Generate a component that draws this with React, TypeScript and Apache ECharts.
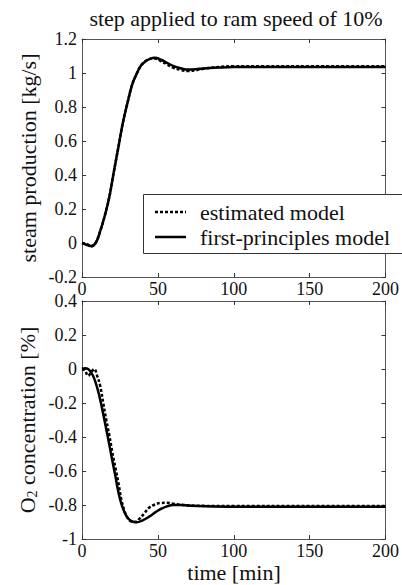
import React, { useEffect, useRef } from "react";
import * as echarts from "echarts";

// ---- data ----
const steamT = [0, 3, 6, 9, 12, 15, 18, 21, 24, 27, 30, 33, 36, 39, 42, 45, 48, 52, 56, 60, 65, 70, 75, 80, 90, 100, 120, 150, 200];
const steamFirst = [0, -0.01, -0.018, 0.0, 0.07, 0.16, 0.27, 0.42, 0.565, 0.71, 0.825, 0.93, 0.995, 1.045, 1.07, 1.085, 1.09, 1.078, 1.06, 1.042, 1.028, 1.02, 1.022, 1.027, 1.032, 1.035, 1.035, 1.035, 1.035];
const steamEst = [0, -0.005, -0.02, 0.0, 0.07, 0.16, 0.27, 0.42, 0.565, 0.71, 0.825, 0.93, 0.995, 1.045, 1.07, 1.083, 1.085, 1.07, 1.05, 1.032, 1.018, 1.012, 1.016, 1.025, 1.035, 1.04, 1.04, 1.04, 1.04];

const o2FirstT = [0, 2, 4, 6, 8, 10, 12, 14, 16, 18, 20, 22, 24, 26, 28, 30, 33, 36, 40, 44, 48, 52, 56, 60, 65, 70, 80, 100, 150, 200];
const o2First = [0, 0.005, 0, -0.02, -0.055, -0.11, -0.18, -0.265, -0.355, -0.445, -0.54, -0.63, -0.725, -0.795, -0.842, -0.875, -0.897, -0.902, -0.89, -0.87, -0.845, -0.823, -0.808, -0.8, -0.8, -0.803, -0.807, -0.81, -0.81, -0.81];

const o2EstT = [0, 2, 4, 6, 8, 10, 12, 14, 16, 18, 20, 22, 24, 26, 28, 30, 32, 35, 38, 41, 44, 48, 52, 56, 60, 65, 70, 80, 100, 150, 200];
const o2Est = [0, -0.01, -0.04, -0.02, 0, -0.04, -0.1, -0.2, -0.3, -0.39, -0.49, -0.58, -0.67, -0.77, -0.835, -0.875, -0.895, -0.9, -0.88, -0.85, -0.818, -0.797, -0.788, -0.787, -0.792, -0.798, -0.802, -0.805, -0.806, -0.806, -0.806];

const xTicks = { min: 0, max: 200, interval: 50 };
const steamTicks = { min: -0.2, max: 1.2, interval: 0.2 };
const o2Ticks = { min: -1, max: 0.4, interval: 0.2 };

const titleText = "step applied to ram speed of 10%";
const legendNames = ["estimated model", "first-principles model"];

const FONT = "Liberation Serif";

function pairs(t: number[], v: number[]) {
  return t.map((x, i) => [x, v[i]]);
}

const css = `#chart-root svg text, #chart-root svg tspan { font-family: "Liberation Serif", "Times New Roman", serif !important; }`;

export default function App() {
  const ref = useRef<HTMLDivElement>(null);
  useEffect(() => {
    document.body.style.margin = "0";
    if (!ref.current) return;
    const chart = echarts.init(ref.current, null, { renderer: "svg" });

    const axisLine = { show: true, onZero: false, lineStyle: { color: "#555", width: 1 } };
    const tick = { show: true, inside: true, length: 4, lineStyle: { color: "#333", width: 1 } };
    const fmt = (v: number) => String(Math.round(v * 10) / 10);

    const mkX = (grid: number, pos: string, labels: boolean) => ({
      type: "value",
      gridIndex: grid,
      position: pos,
      ...xTicks,
      axisLine,
      axisTick: tick,
      splitLine: { show: false },
      axisLabel: labels
        ? { show: true, fontSize: 18, fontFamily: FONT, color: "#111", margin: 3, formatter: fmt }
        : { show: false },
    });
    const mkY = (grid: number, pos: string, labels: boolean, ticks: any) => ({
      type: "value",
      gridIndex: grid,
      position: pos,
      ...ticks,
      axisLine,
      axisTick: tick,
      splitLine: { show: false },
      axisLabel: labels
        ? { show: true, fontSize: 18, fontFamily: FONT, color: "#111", margin: 5, formatter: fmt }
        : { show: false },
    });

    const lineBase = { type: "line", showSymbol: false, symbol: "none", smooth: 0.4, z: 3 };

    chart.setOption({
      animation: false,
      backgroundColor: "#fff",
      grid: [
        { left: 82, top: 39, width: 308, height: 238 },
        { left: 82, top: 301, width: 308, height: 238 },
      ],
      xAxis: [mkX(0, "bottom", true), mkX(0, "top", false), mkX(1, "bottom", true), mkX(1, "top", false)],
      yAxis: [
        mkY(0, "left", true, steamTicks),
        mkY(0, "right", false, steamTicks),
        mkY(1, "left", true, o2Ticks),
        mkY(1, "right", false, o2Ticks),
      ],
      series: [
        { ...lineBase, name: legendNames[1], xAxisIndex: 0, yAxisIndex: 0, data: pairs(steamT, steamFirst), lineStyle: { color: "#000", width: 2.5 } },
        { ...lineBase, name: legendNames[0], xAxisIndex: 0, yAxisIndex: 0, data: pairs(steamT, steamEst), lineStyle: { color: "#000", width: 2.5, type: [3, 2] } },
        { ...lineBase, name: legendNames[1], xAxisIndex: 2, yAxisIndex: 2, data: pairs(o2FirstT, o2First), lineStyle: { color: "#000", width: 2.5 } },
        { ...lineBase, name: legendNames[0], xAxisIndex: 2, yAxisIndex: 2, data: pairs(o2EstT, o2Est), lineStyle: { color: "#000", width: 2.5, type: [3, 2] } },
      ],
      graphic: [
        {
          type: "text", x: 236, y: 18, z: 100,
          style: { text: titleText, fontSize: 22, fontFamily: FONT, fill: "#111", align: "center", verticalAlign: "middle" },
        },
        {
          type: "text", x: 28, y: 158, rotation: Math.PI / 2, z: 100,
          style: { text: "steam production [kg/s]", fontSize: 22, fontFamily: FONT, fill: "#111", align: "center", verticalAlign: "middle" },
        },
        {
          type: "text", x: 27, y: 420, rotation: Math.PI / 2, z: 100,
          style: {
            text: "{a|O}{s|2}{a| concentration [%]}",
            fontSize: 22, fontFamily: FONT, fill: "#111", align: "center", verticalAlign: "middle",
            rich: {
              a: { fontSize: 22, fontFamily: FONT, fill: "#111", lineHeight: 24 },
              s: { fontSize: 14, fontFamily: FONT, fill: "#111", lineHeight: 14, verticalAlign: "bottom" },
            },
          },
        },
        {
          type: "text", x: 234, y: 572, z: 100,
          style: { text: "time [min]", fontSize: 22, fontFamily: FONT, fill: "#111", align: "center", verticalAlign: "middle" },
        },
        {
          type: "rect", z: 100,
          shape: { x: 143.5, y: 194.5, width: 270, height: 59 },
          style: { fill: "#fff", stroke: "#333", lineWidth: 1 },
        },
        {
          type: "line", z: 101,
          shape: { x1: 155, y1: 212, x2: 186, y2: 212 },
          style: { stroke: "#000", lineWidth: 2.5, lineDash: [3, 2] },
        },
        {
          type: "line", z: 101,
          shape: { x1: 155, y1: 237, x2: 186, y2: 237 },
          style: { stroke: "#000", lineWidth: 2.5 },
        },
        {
          type: "text", x: 200, y: 212, z: 101,
          style: { text: legendNames[0], fontSize: 22, fontFamily: FONT, fill: "#111", align: "left", verticalAlign: "middle" },
        },
        {
          type: "text", x: 200, y: 237, z: 101,
          style: { text: legendNames[1], fontSize: 22, fontFamily: FONT, fill: "#111", align: "left", verticalAlign: "middle" },
        },
      ],
    });
    return () => chart.dispose();
  }, []);
  return (
    <div id="chart-root">
      <style>{css}</style>
      <div ref={ref} style={{ width: 402, height: 585 }} />
    </div>
  );
}
